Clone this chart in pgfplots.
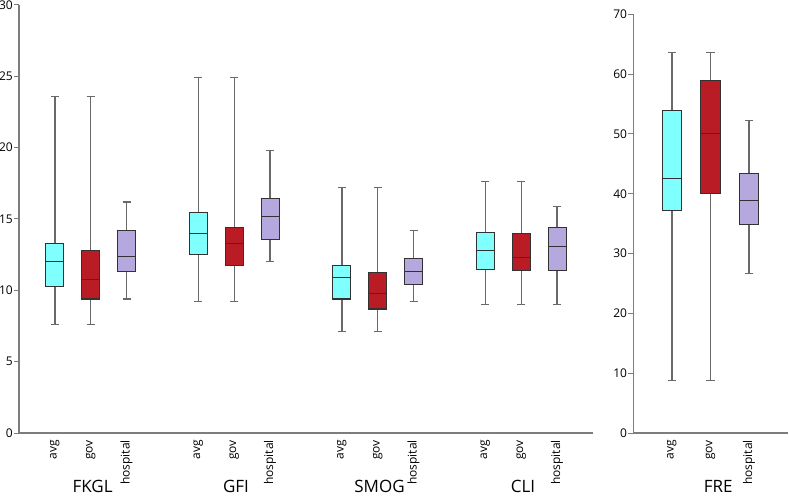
\documentclass[border=0pt]{standalone}
\usepackage{fontspec}
\setmainfont{Open Sans}
\usepackage{pgfplots}
\pgfplotsset{compat=1.18}
\usepgfplotslibrary{statistics}

\definecolor{cavg}{RGB}{128,255,255}
\definecolor{cgov}{RGB}{185,28,36}
\definecolor{chosp}{RGB}{180,168,222}
\definecolor{axisgray}{RGB}{125,125,125}
\definecolor{whiskergray}{RGB}{105,105,105}
\definecolor{boxedge}{RGB}{50,50,50}

\tikzset{grplabel/.style={font=\fontsize{17bp}{19bp}\selectfont, anchor=base}}

\pgfplotsset{
  readstyle/.style={
    scale only axis,
    axis lines=left,
    axis line style={-, draw=axisgray, line width=1.4bp},
    xtick style={draw=none},
    ytick style={draw=axisgray, line width=1bp},
    tick align=outside,
    major tick length=5bp,
    x tick label style={rotate=90, anchor=east, font=\fontsize{12bp}{14bp}\selectfont, inner sep=2bp},
    y tick label style={font=\fontsize{12bp}{14bp}\selectfont, inner sep=1bp},
    /pgf/number format/assume math mode=true,
    ymin=0,
    clip=false,
    boxplot/draw direction=y,
    boxplot/every whisker/.style={draw=whiskergray, line width=1.3bp},
    boxplot/every box/.style={draw=boxedge, line width=1.1bp},
    boxplot/every median/.style={draw=boxedge, line width=1.1bp},
    boxplot/box extend=0.5,
    boxplot/whisker extend=0.22,
  },
}

\begin{document}
\begin{tikzpicture}
% left panel: FKGL, GFI, SMOG, CLI
\begin{axis}[readstyle,
  at={(0,0)}, anchor=south west,
  width=574bp, height=428bp,
  xmin=-1, xmax=15, ymax=30,
  ytick={0,5,10,15,20,25,30},
  xtick={0,1,2,4,5,6,8,9,10,12,13,14},
  xticklabels={avg,gov,hospital,avg,gov,hospital,avg,gov,hospital,avg,gov,hospital},
]
% FKGL
\addplot[boxplot prepared={lower whisker=7.6, lower quartile=10.25, median=12.0, upper quartile=13.3, upper whisker=23.6, draw position=0}, fill=cavg] coordinates {};
\addplot[boxplot prepared={lower whisker=7.6, lower quartile=9.39, median=10.77, upper quartile=12.8, upper whisker=23.6, draw position=1}, fill=cgov] coordinates {};
\addplot[boxplot prepared={lower whisker=9.39, lower quartile=11.3, median=12.4, upper quartile=14.18, upper whisker=16.2, draw position=2}, fill=chosp] coordinates {};
% GFI
\addplot[boxplot prepared={lower whisker=9.2, lower quartile=12.54, median=14.0, upper quartile=15.47, upper whisker=24.9, draw position=4}, fill=cavg] coordinates {};
\addplot[boxplot prepared={lower whisker=9.2, lower quartile=11.73, median=13.3, upper quartile=14.39, upper whisker=24.9, draw position=5}, fill=cgov] coordinates {};
\addplot[boxplot prepared={lower whisker=12.0, lower quartile=13.57, median=15.19, upper quartile=16.45, upper whisker=19.78, draw position=6}, fill=chosp] coordinates {};
% SMOG
\addplot[boxplot prepared={lower whisker=7.1, lower quartile=9.39, median=10.91, upper quartile=11.75, upper whisker=17.19, draw position=8}, fill=cavg] coordinates {};
\addplot[boxplot prepared={lower whisker=7.1, lower quartile=8.69, median=9.79, upper quartile=11.28, upper whisker=17.19, draw position=9}, fill=cgov] coordinates {};
\addplot[boxplot prepared={lower whisker=9.2, lower quartile=10.44, median=11.33, upper quartile=12.24, upper whisker=14.2, draw position=10}, fill=chosp] coordinates {};
% CLI
\addplot[boxplot prepared={lower whisker=8.99, lower quartile=11.47, median=12.82, upper quartile=14.06, upper whisker=17.61, draw position=12}, fill=cavg] coordinates {};
\addplot[boxplot prepared={lower whisker=8.99, lower quartile=11.42, median=12.31, upper quartile=14.0, upper whisker=17.61, draw position=13}, fill=cgov] coordinates {};
\addplot[boxplot prepared={lower whisker=8.99, lower quartile=11.37, median=13.08, upper quartile=14.39, upper whisker=15.88, draw position=14}, fill=chosp] coordinates {};

\node[grplabel] at ([yshift=-59bp]axis cs:1.05,0) {FKGL};
\node[grplabel] at ([yshift=-59bp]axis cs:5.05,0) {GFI};
\node[grplabel] at ([yshift=-59bp]axis cs:9.05,0) {SMOG};
\node[grplabel] at ([yshift=-59bp]axis cs:13.05,0) {CLI};
\end{axis}

% right panel: FRE
\begin{axis}[readstyle,
  at={(614.3bp,0)}, anchor=south west,
  width=154.4bp, height=418.7bp,
  xmin=-1, xmax=3, ymax=70,
  ytick={0,10,20,30,40,50,60,70},
  xtick={0,1,2},
  xticklabels={avg,gov,hospital},
]
\addplot[boxplot prepared={lower whisker=8.8, lower quartile=37.2, median=42.6, upper quartile=53.9, upper whisker=63.6, draw position=0}, fill=cavg] coordinates {};
\addplot[boxplot prepared={lower whisker=8.8, lower quartile=40.1, median=50.1, upper quartile=58.9, upper whisker=63.6, draw position=1}, fill=cgov] coordinates {};
\addplot[boxplot prepared={lower whisker=26.7, lower quartile=34.8, median=38.8, upper quartile=43.4, upper whisker=52.2, draw position=2}, fill=chosp] coordinates {};

\node[grplabel] at ([yshift=-59bp]axis cs:1.2,0) {FRE};
\end{axis}

\pgfresetboundingbox
\path (-19bp,-64bp) rectangle (770bp,433bp);
\end{tikzpicture}
\end{document}
